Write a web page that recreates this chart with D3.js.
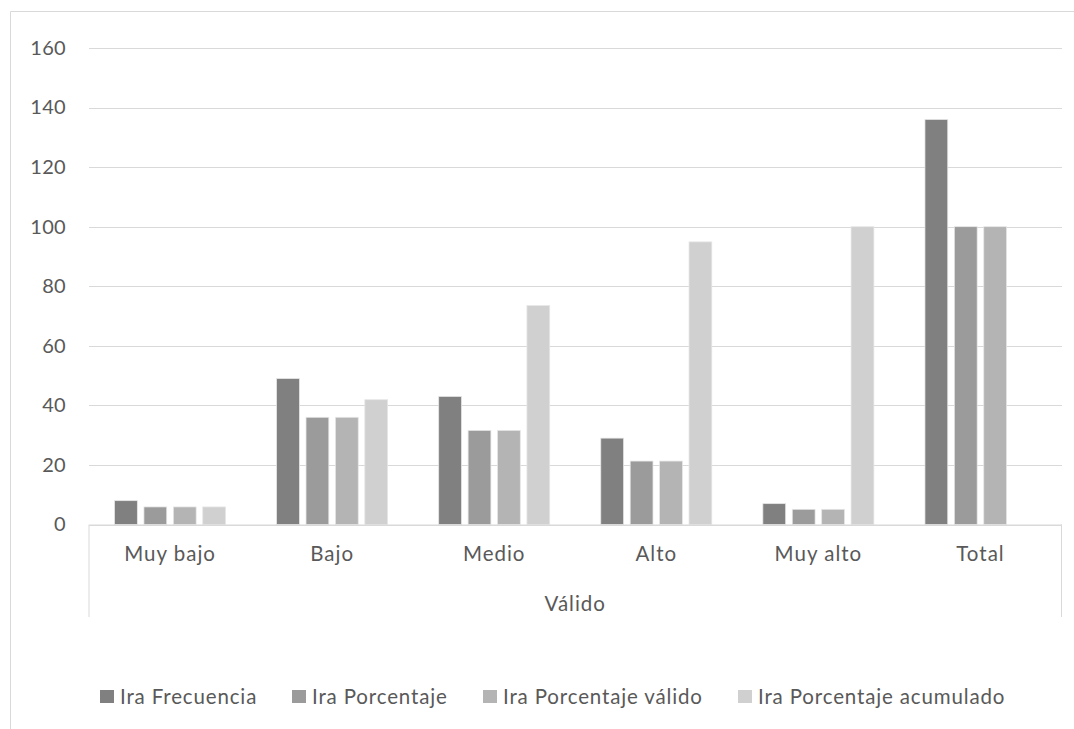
<!DOCTYPE html>
<html><head><meta charset="utf-8">
<script src="https://cdn.jsdelivr.net/npm/d3@7"></script>
<style>html,body{margin:0;padding:0;background:#fff}svg{display:block}text{font-family:Lato,"Open Sans",sans-serif;fill:#595959}</style>
</head><body>
<svg id="chart" width="1074" height="729"></svg>
<script>
const categories = ["Muy bajo","Bajo","Medio","Alto","Muy alto","Total"];
const groupLabel = "Válido";
const seriesNames = ["Ira Frecuencia","Ira Porcentaje","Ira Porcentaje válido","Ira Porcentaje acumulado"];
const frecuencia = [8,49,43,29,7,136];
const porcentaje = [5.9,36.0,31.6,21.3,5.1,100];
const porcentajeValido = [5.9,36.0,31.6,21.3,5.1,100];
const porcentajeAcumulado = [5.9,41.9,73.5,94.9,100,null];
const yTicks = [0,20,40,60,80,100,120,140,160];
const colors = ["#808080","#9b9b9b","#b4b4b4","#d0d0d0"];

const series = [frecuencia, porcentaje, porcentajeValido, porcentajeAcumulado];
const svg = d3.select("#chart");
svg.append("rect").attr("width",1074).attr("height",729).attr("fill","#fff");
// outer chart border (cropped)
svg.append("path").attr("d","M10.5,729 V11.5 H1074").attr("fill","none").attr("stroke","#d9d9d9").attr("stroke-width",1);

const left = 89, right = 1061.5, y0 = 524.5, yTop = 48;
const x0 = d3.scaleBand().domain(categories).range([left,right]).paddingInner(0).paddingOuter(0);
const y = d3.scaleLinear().domain([0,160]).range([y0,yTop]);
const groupW = 111;
const x1 = d3.scaleBand().domain(d3.range(4)).range([(x0.bandwidth()-groupW)/2,(x0.bandwidth()+groupW)/2]).paddingInner(0.225);

// gridlines
const yAxis = d3.axisLeft(y).tickValues(yTicks).tickSize(-(right-left)).tickFormat(d3.format("d")).tickPadding(23);
const gy = svg.append("g").attr("transform",`translate(${left},0)`).call(yAxis);
gy.select(".domain").remove();
gy.selectAll(".tick line").attr("stroke","#d9d9d9").attr("stroke-width",1).attr("shape-rendering","crispEdges");
gy.selectAll(".tick text").attr("font-size",20).attr("fill","#595959").style("font-family","Lato").style("letter-spacing","0.3px");

// bars
const groups = svg.append("g").selectAll("g").data(categories).join("g")
  .attr("transform",d=>`translate(${x0(d)},0)`);
groups.selectAll("rect").data((d,i)=>series.map((s,k)=>({k,v:s[i]})).filter(e=>e.v!=null)).join("rect")
  .attr("x",e=>x1(e.k)).attr("width",x1.bandwidth())
  .attr("y",e=>y(e.v)).attr("height",e=>y(0)-y(e.v))
  .attr("fill",e=>colors[e.k]).attr("stroke","#e6e6e6").attr("stroke-width",0.75);

// category axis
const xAxis = d3.axisBottom(x0).tickSize(0).tickPadding(22);
const gx = svg.append("g").attr("transform",`translate(0,${y0})`).call(xAxis);
gx.select(".domain").attr("stroke","#d9d9d9");
gx.selectAll(".tick text").attr("font-size",20.5).attr("fill","#595959").style("font-family","Lato").style("letter-spacing","1px");
// multi-level frame
svg.append("path").attr("d",`M${left},${y0} V617 M${right},${y0} V617`).attr("stroke","#d9d9d9").attr("fill","none");
svg.append("text").attr("x",(left+right)/2).attr("y",611).attr("text-anchor","middle").attr("font-size",20.5).style("letter-spacing","1px").text(groupLabel);

// legend
const legendX = [100,292,483,738];
const lg = svg.append("g").selectAll("g").data(seriesNames).join("g")
  .attr("transform",(d,i)=>`translate(${legendX[i]},690)`);
lg.append("rect").attr("width",14).attr("height",13).attr("fill",(d,i)=>colors[i]);
lg.append("text").attr("x",20).attr("y",13.5).attr("font-size",20.5).style("letter-spacing","0.85px").text(d=>d);
</script>
</body></html>
